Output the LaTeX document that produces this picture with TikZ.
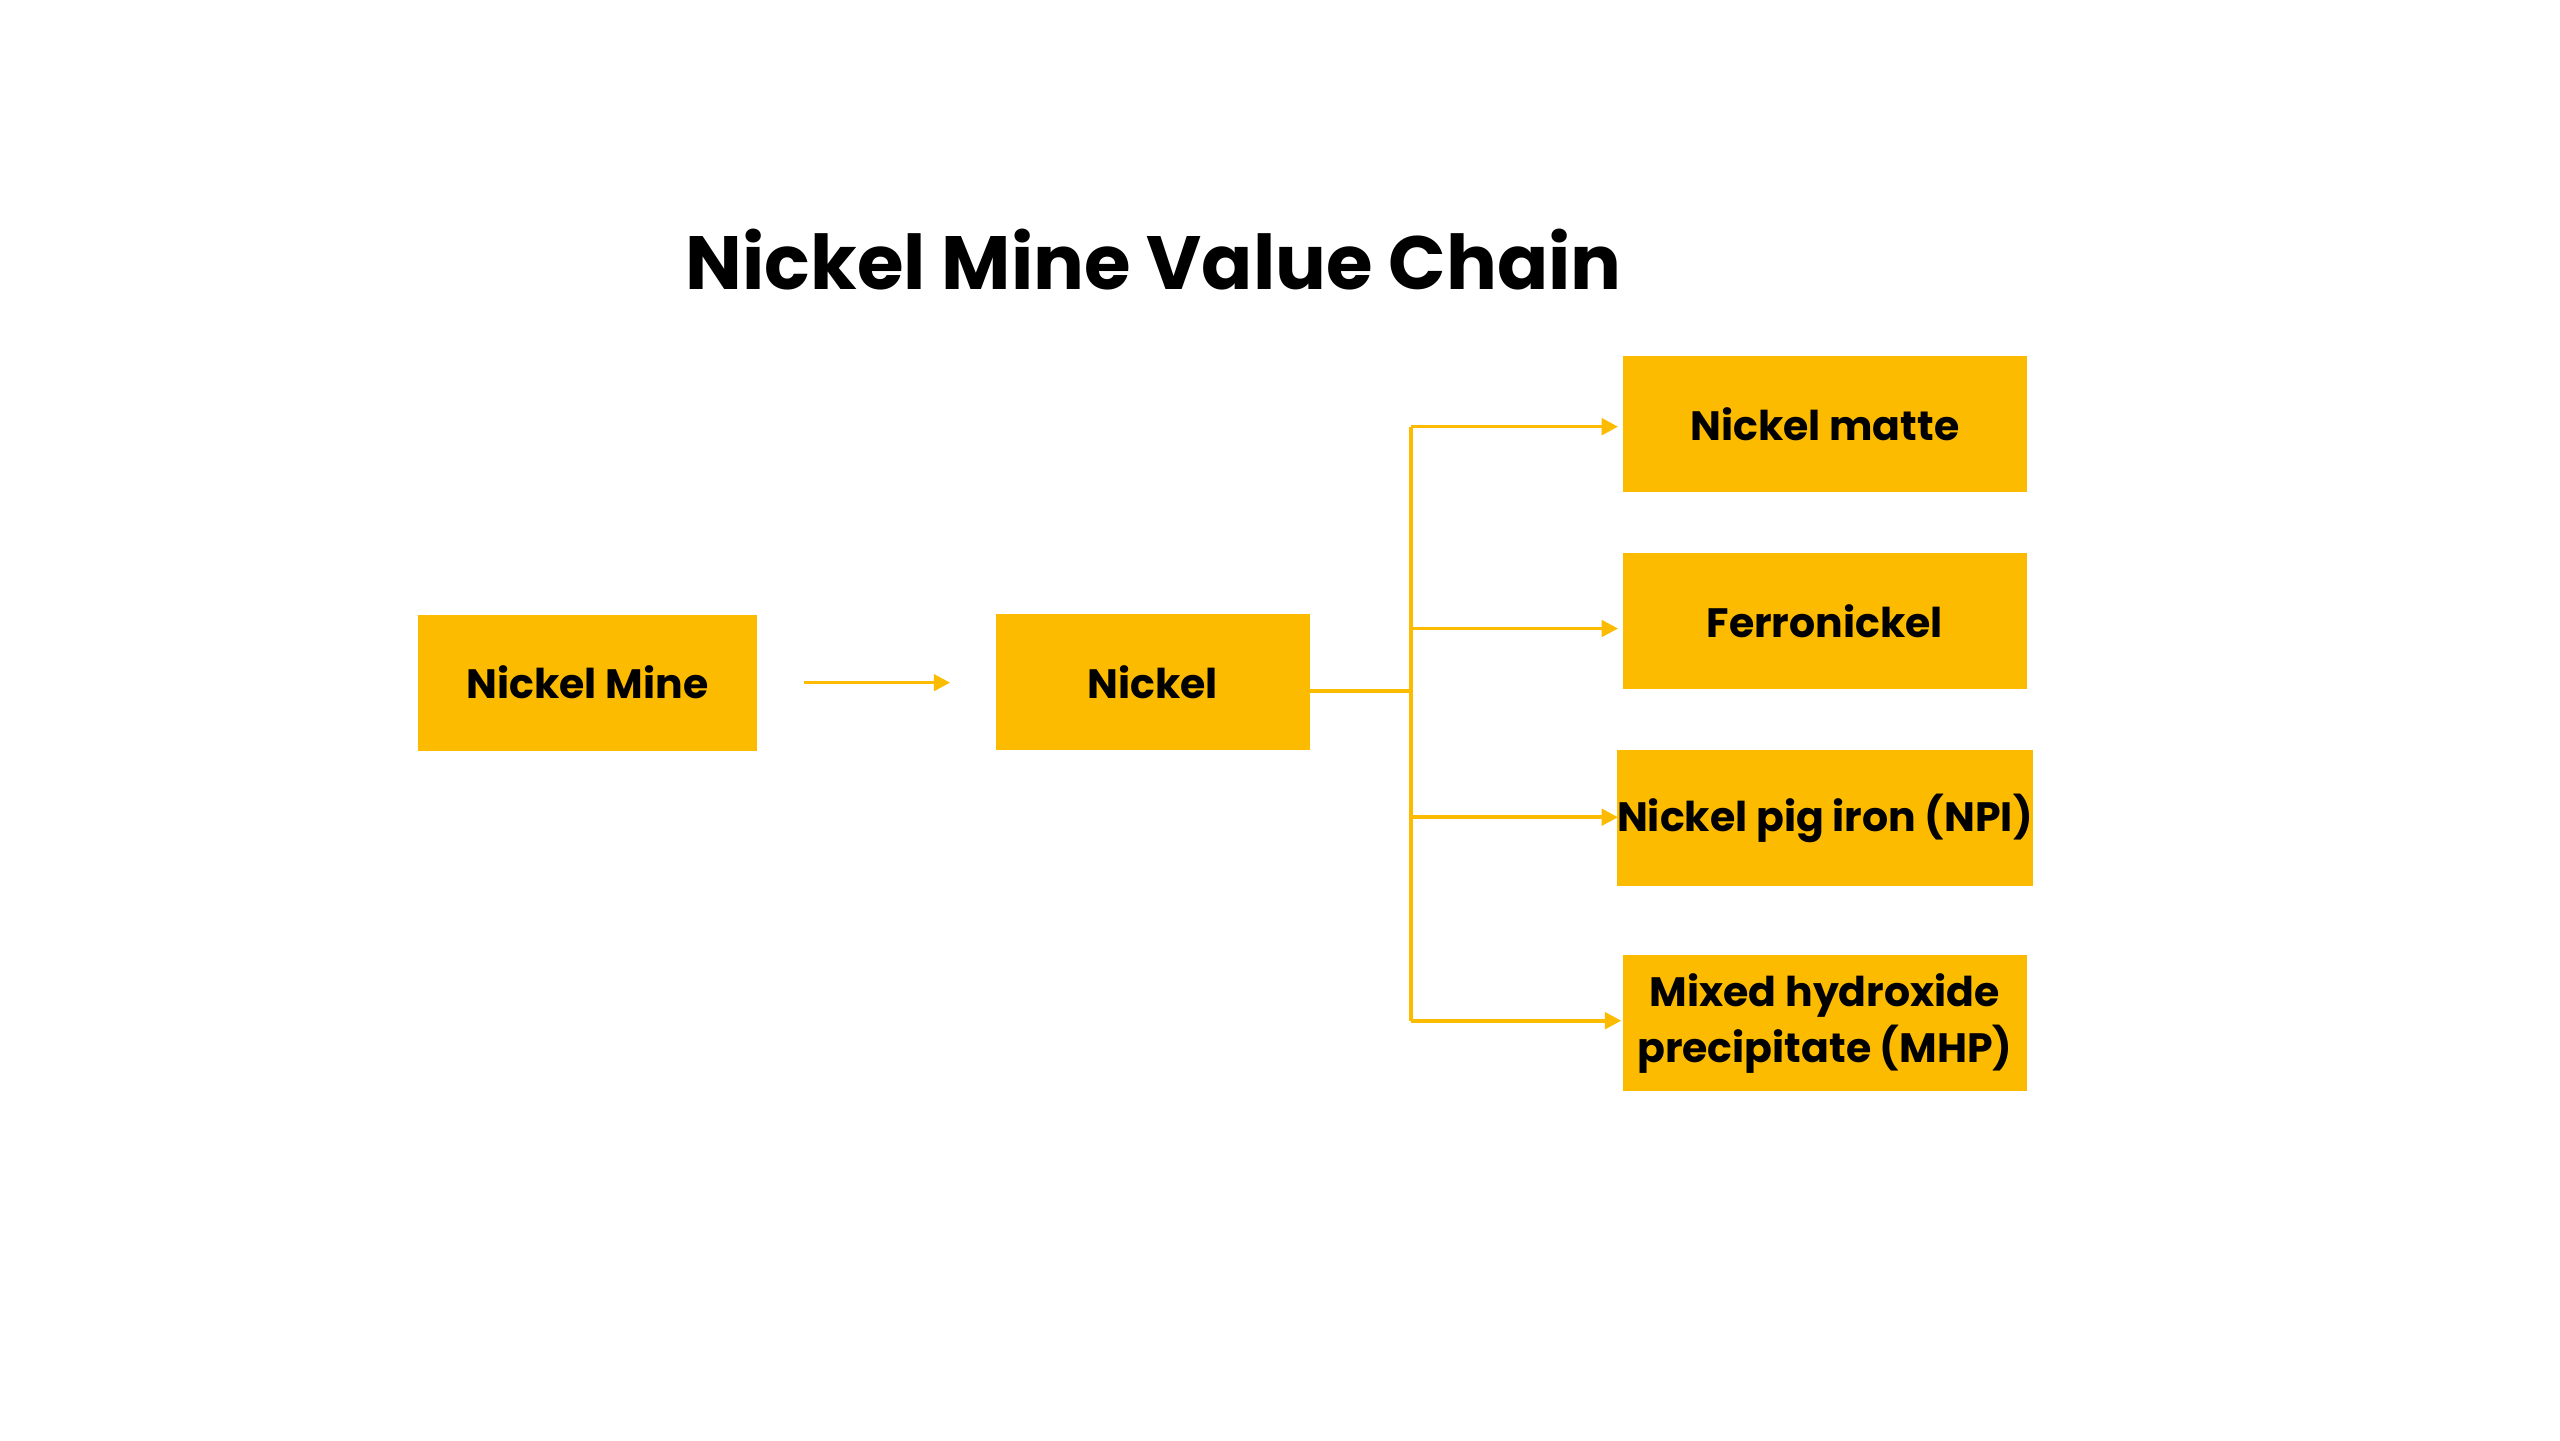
\documentclass[tikz,border=0pt]{standalone}
\usepackage{fontspec}
\setmainfont{Poppins}
\usetikzlibrary{arrows.meta}
\definecolor{gold}{HTML}{FDBB00}
\begin{document}
\begin{tikzpicture}[x=0.5pt,y=-0.5pt,
 box/.style={fill=gold,draw=none,inner sep=0pt,font=\bfseries\fontsize{12.5}{17}\selectfont,align=center},
 ln/.style={draw=gold,line width=1.1pt},
 ar/.style={ln,-{Triangle[length=5pt,width=5pt]}}]
\useasboundingbox (0,0) rectangle (1560,878);
\node[font=\bfseries\fontsize{23}{28}\selectfont] (t) at (703,158) {Nickel Mine Value Chain};
\node[box,minimum width=103pt,minimum height=41.5pt] (mine) at (358,416) {Nickel Mine};
\node[box,minimum width=95.5pt,minimum height=41.5pt] (ni) at (702.5,415.5) {Nickel};
\node[box,minimum width=123pt,minimum height=41.5pt] (a) at (1112,258.5) {Nickel matte};
\node[box,minimum width=123pt,minimum height=41.5pt] (b) at (1112,378.5) {Ferronickel};
\node[box,minimum width=123pt,minimum height=41.5pt] (c) at (1112,498.5) {Nickel pig iron (NPI)};
\node[box,minimum width=123pt,minimum height=41.5pt] (d) at (1112,623.5) {Mixed hydroxide\\precipitate (MHP)};
\coordinate (s1) at (490,416); \coordinate (e1) at (579,416);
\draw[ar] (s1) -- (e1);
\coordinate (j) at (860,421);
\coordinate (ja) at (860,260); \coordinate (jb) at (860,383); \coordinate (jc) at (860,498); \coordinate (jd) at (860,622);
\draw[ln] (ni.east |- j) -- (j);
\draw[ln] (ja) -- (jd);
\draw[ar] (ja) -- (986,260);
\draw[ar] (jb) -- (986,383);
\draw[ar] (jc) -- (986,498);
\draw[ar] (jd) -- (988,622);
\end{tikzpicture}
\end{document}
